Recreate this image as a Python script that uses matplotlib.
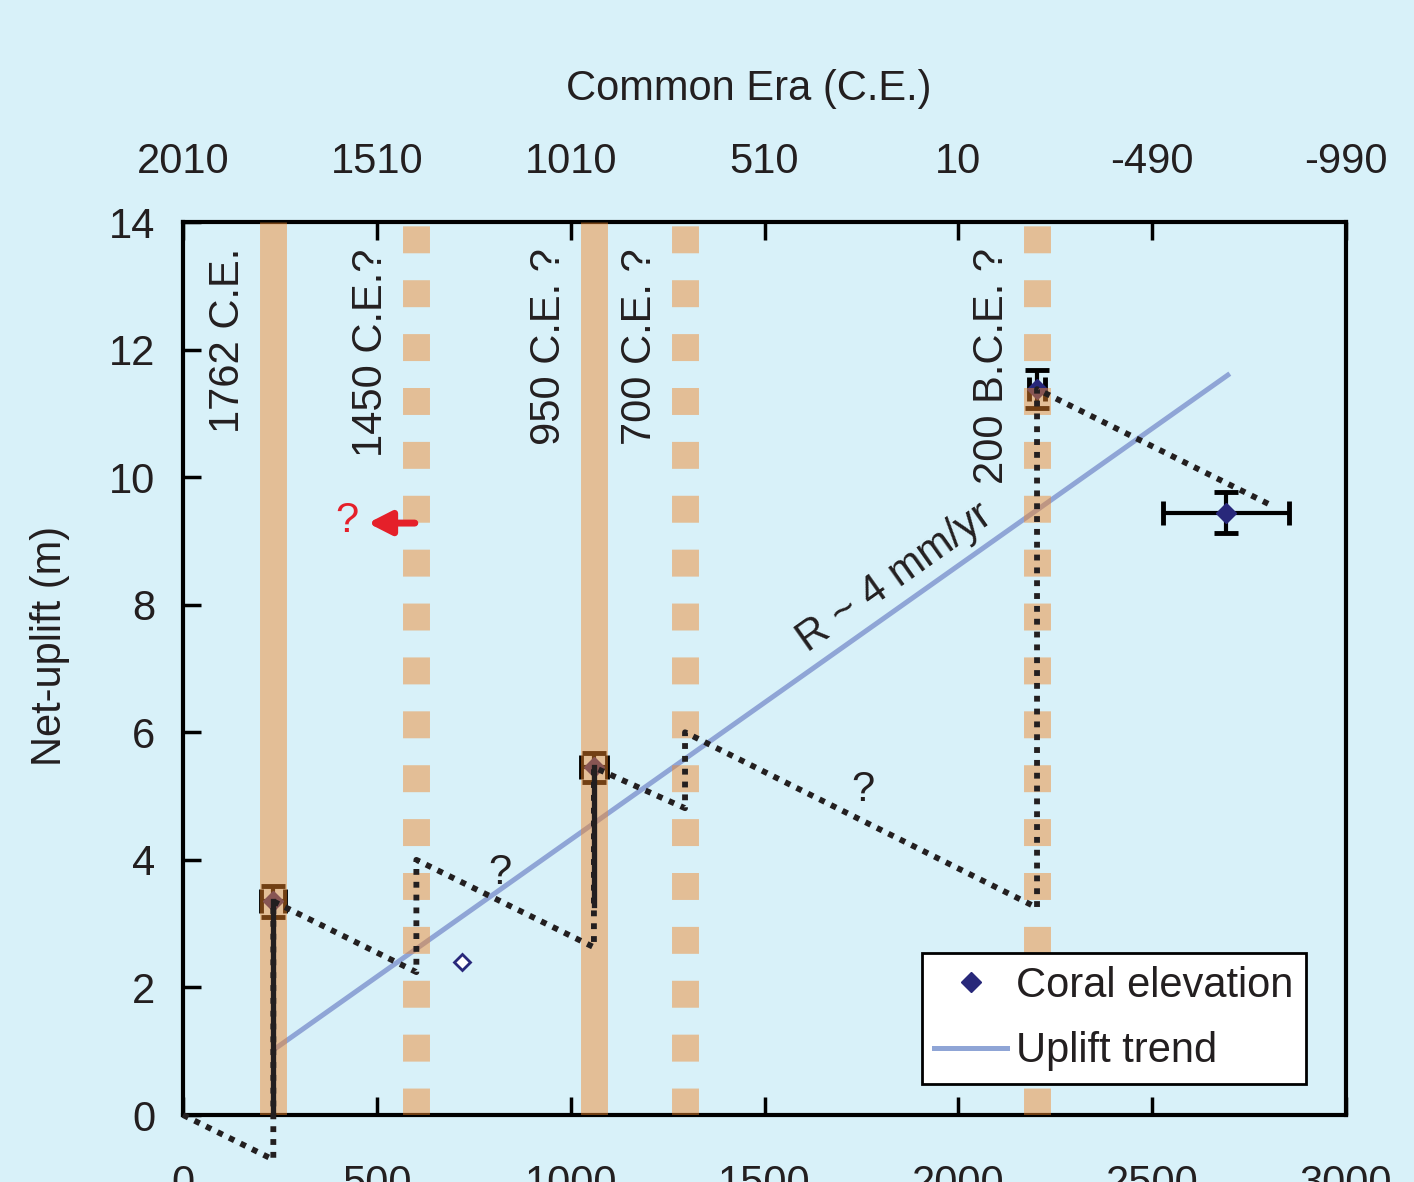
import math
import matplotlib
matplotlib.use('Agg')
import matplotlib.pyplot as plt

plt.rcParams['font.family'] = ['Liberation Sans', 'DejaVu Sans']

# Paleo-earthquake events (x = years before 2010)
event_x = [233, 602, 1060, 1295, 2203]
event_labels = ['1762 C.E.', '1450 C.E.?', '950 C.E. ?', '700 C.E. ?', '200 B.C.E. ?']
event_certain = [True, False, True, False, False]

# Coral elevations with error bars
coral_x = [233, 1060, 2203, 2690]
coral_y = [3.35, 5.45, 11.38, 9.44]
coral_xerr = [31, 34, 20, 163]
coral_yerr = [0.24, 0.23, 0.30, 0.32]

# Unassigned coral (open symbol)
open_x = [720]
open_y = [2.40]

# Uplift trend, R ~ 4 mm/yr
trend_x = [233, 2695]
trend_y = [1.02, 11.6]

# Interseismic / coseismic sawtooth (dotted)
saw_x = [0, 233, 233, 602, 602, 1060, 1060, 1295, 1295, 2203, 2203, 2800]
saw_y = [0, -0.7, 3.35, 2.24, 4.0, 2.63, 5.45, 4.81, 6.0, 3.25, 11.38, 9.58]

# Well-constrained coseismic jumps (solid)
jump_x = [233, 1060]
jump_lo = [0, 3.3]
jump_hi = [3.35, 5.45]

# Uncertain segments
qmark_x = [818, 1754]
qmark_y = [3.8, 5.1]

x_ticks = [0, 500, 1000, 1500, 2000, 2500, 3000]
y_ticks = [0, 2, 4, 6, 8, 10, 12, 14]
top_labels = [str(2010 - t) for t in x_ticks]

bg = '#d8f1f9'
ink = '#231f20'
navy = '#28287a'
band_color = '#f0872a'
trend_color = '#8fa5d6'
red = '#e5202a'
fs = 30

fig = plt.figure(figsize=(14.14, 11.82), dpi=100, facecolor=bg)
ax = fig.add_axes([0.12942, 0.05668, 0.82249, 0.75550])
ax.set_facecolor(bg)
ax.set_xlim(0, 3000)
ax.set_ylim(0, 14)

# trend line
h_trend, = ax.plot(trend_x, trend_y, color=trend_color, lw=3.6, zorder=2,
                   label='Uplift trend')

# coral points
ax.errorbar(coral_x, coral_y, xerr=coral_xerr, yerr=coral_yerr, fmt='none',
            ecolor='black', elinewidth=3, capsize=8.5, capthick=3.5, zorder=2.2)
h_coral, = ax.plot(coral_x, coral_y, 'D', ls='none', color=navy, ms=10.5,
                   zorder=2.3, label='Coral elevation')
ax.plot(open_x, open_y, 'D', ls='none', mfc='white', mec=navy, mew=2, ms=8.5,
        zorder=2.3)

# event bands
for x, certain in zip(event_x, event_certain):
    if certain:
        ax.plot([x, x], [0, 14], color=band_color, alpha=0.48, lw=19.4,
                solid_capstyle='butt', zorder=3)
    else:
        ax.plot([x, x], [0, 14], color=band_color, alpha=0.48, lw=19.4,
                ls=(0, (1, 1)), dash_capstyle='butt', zorder=3)

# event labels
for x, lab in zip(event_x, event_labels):
    ax.text(x - 116, 13.59, lab, rotation=90, ha='center', va='top',
            fontsize=fs, color=ink, zorder=5)

# sawtooth
ax.plot(saw_x, saw_y, color=ink, lw=4.2, ls=(0, (1, 1.2)), zorder=4, clip_on=False)
for x, lo, hi in zip(jump_x, jump_lo, jump_hi):
    ax.plot([x, x], [lo, hi], color=ink, lw=3.8, zorder=4)

for x, y in zip(qmark_x, qmark_y):
    ax.text(x, y, '?', fontsize=fs, color=ink, ha='center', va='center', zorder=5)

# red question mark and arrow
ax.text(423, 9.31, '?', fontsize=fs, color=red, ha='center', va='center', zorder=5)
ax.annotate('', xy=(477, 9.28), xytext=(598, 9.28), zorder=5,
            arrowprops=dict(arrowstyle='-|>,head_length=0.55,head_width=0.28',
                            color=red, lw=5, mutation_scale=25,
                            shrinkA=0, shrinkB=0))

# rate label along trend line
p0, p1 = ax.transData.transform([(trend_x[0], trend_y[0]), (trend_x[1], trend_y[1])])
angle = math.degrees(math.atan2(p1[1] - p0[1], p1[0] - p0[0]))
ax.text(1836, 8.43, 'R ~ 4 mm/yr', rotation=angle, rotation_mode='anchor',
        ha='center', va='center', fontsize=fs, color=ink, zorder=5)

# axes styling
for side in ['left', 'bottom', 'top', 'right']:
    ax.spines[side].set_linewidth(3)
    ax.spines[side].set_color('black')
ax.set_xticks(x_ticks)
ax.set_yticks(y_ticks)
ax.tick_params(axis='x', direction='in', length=13, width=2.5, labelsize=fs,
               pad=35, labelcolor=ink, top=False)
ax.tick_params(axis='y', direction='in', length=13, width=2.5, labelsize=fs,
               pad=20, labelcolor=ink, right=False)

ax2 = ax.twiny()
ax2.set_xlim(0, 3000)
ax2.set_xticks(x_ticks)
ax2.set_xticklabels(top_labels)
ax2.tick_params(axis='x', direction='in', length=13, width=2.5, labelsize=fs,
                pad=29, labelcolor=ink)
for side in ['left', 'bottom', 'top', 'right']:
    ax2.spines[side].set_visible(False)

fig.text(749 / 1414, 1 - 100 / 1182, 'Common Era (C.E.)', fontsize=fs, color=ink,
         ha='center', va='baseline')
fig.text(50 / 1414, 1 - 646 / 1182, 'Net-uplift (m)', fontsize=fs, color=ink,
         rotation=90, ha='center', va='center')

leg = ax.legend(handles=[h_coral, h_trend], loc='upper left',
                bbox_to_anchor=(0.6354, 0.1814), borderaxespad=0, fontsize=fs,
                frameon=True, fancybox=False, edgecolor='black', facecolor='white',
                framealpha=1, handlelength=1.75, handletextpad=0.2,
                labelspacing=0.62, borderpad=0.3)
leg.get_frame().set_linewidth(2)
leg.set_zorder(6)
for t in leg.get_texts():
    t.set_color(ink)

fig.savefig('out.png', dpi=100, facecolor=bg)
